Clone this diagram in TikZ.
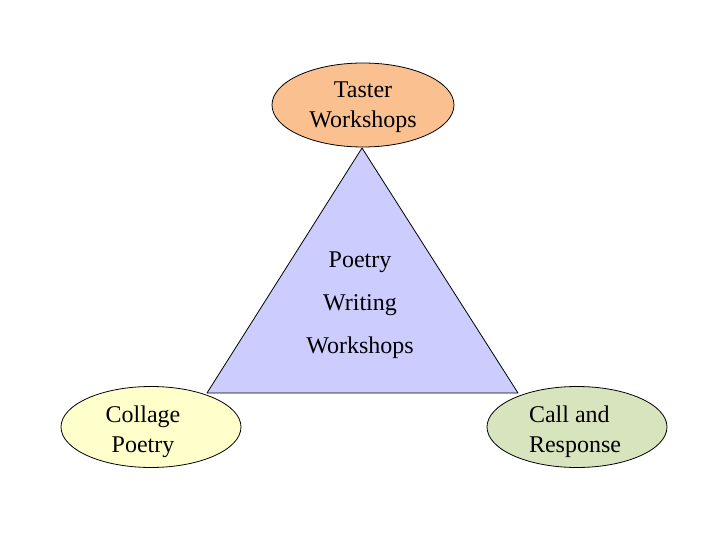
\documentclass[tikz,border=0pt]{standalone}
\usepackage{fontspec}
\setmainfont{Liberation Serif}
\usetikzlibrary{shapes.geometric}
\definecolor{tastercol}{RGB}{250,192,143}
\definecolor{trianglecol}{RGB}{204,204,255}
\definecolor{collagecol}{RGB}{255,255,204}
\definecolor{callcol}{RGB}{215,228,189}
\begin{document}
\begin{tikzpicture}[x=1pt,y=-1pt,line join=round,
  font=\fontsize{24}{30}\selectfont,
  bubble/.style={ellipse,draw=black,line width=0.8pt,inner sep=0pt,minimum width=180pt,minimum height=81pt}]
\useasboundingbox[fill=white] (0,0) rectangle (720,540);
% triangle
\coordinate (apex) at (362,148);
\coordinate (bl) at (207,393);
\coordinate (br) at (518,393);
\filldraw[fill=trianglecol,draw=black,line width=0.8pt] (apex) -- (bl) -- (br) -- cycle;
\node[align=center,font=\fontsize{24}{43}\selectfont] (poetry) at (360,305) {Poetry\\Writing\\Workshops};
% ellipses
\node[bubble,fill=tastercol,minimum width=182pt,minimum height=84pt] (taster) at (363,105) {};
\node[bubble,fill=collagecol] (collage) at (151,427) {};
\node[bubble,fill=callcol] (call) at (577,427) {};
\node[align=center] (tastertext) at ([yshift=-2.5pt]taster.center) {Taster\\Workshops};
\node[align=center] (collagetext) at ([xshift=-8pt,yshift=-4.5pt]collage.center) {Collage\\Poetry};
\node[align=left] (calltext) at ([xshift=-2pt,yshift=-4.5pt]call.center) {Call and\\Response};
\end{tikzpicture}
\end{document}
